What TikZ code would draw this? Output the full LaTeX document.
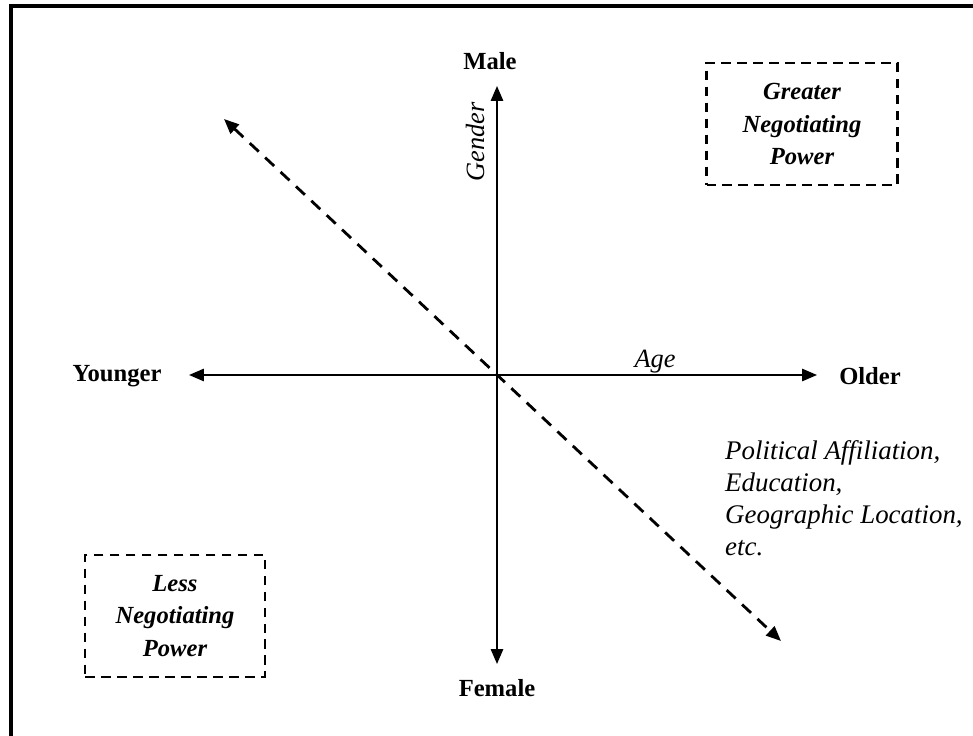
\documentclass[tikz,border=0pt]{standalone}
\usepackage{fontspec}
\setmainfont{Liberation Serif}
\usetikzlibrary{positioning,arrows.meta}
\tikzset{
  axisline/.style={line width=1.1pt,{Triangle[length=8.5pt,width=7pt]}-{Triangle[length=8.5pt,width=7pt]}},
  dimline/.style={line width=1.6pt,dash pattern=on 7pt off 5pt,{Triangle[length=8.5pt,width=7pt]}-{Triangle[length=8.5pt,width=7pt]}},
  poslabel/.style={font=\fontsize{14}{16}\selectfont\bfseries},
  axlabel/.style={font=\fontsize{15}{18}\selectfont\itshape},
  powerbox/.style={draw,line width=1.6pt,dash pattern=on 5.5pt off 3.6pt,align=center,
                   font=\fontsize{14}{18.5}\selectfont\bfseries\itshape,inner sep=0pt},
}
\begin{document}
\begin{tikzpicture}[x=0.02cm,y=-0.02cm]
        \useasboundingbox (0,0) rectangle (973,736);
        \fill[white] (0,0) rectangle (973,736);
        % frame, cut at right and bottom like the scan
        \draw[line width=2pt] (11,6) rectangle (980,742);

        % axes
        \coordinate (o) at (497,375);
        \coordinate (up) at (497,86);
        \coordinate (down) at (497,664);
        \coordinate (left) at (189,375);
        \coordinate (right) at (817,375);
        \coordinate (nw) at (224,119);
        \coordinate (se) at (781,641);
        \draw[axisline] (down) -- (up);
        \draw[axisline] (left) -- (right);
        \draw[dimline] (nw) -- (se);

        \node[poslabel] (male) at (490,61) {Male};
        \node[poslabel] (female) at (497,688) {Female};
        \node[poslabel] (younger) at (117,376) {Younger};
        \node[poslabel] (older) at (870,376) {Older};

        \node[axlabel,rotate=90] (gender) at (475,142) {Gender};
        \node[axlabel] (age) at (655,362) {Age};
        \node[axlabel,align=left,anchor=north west,font=\fontsize{15.3}{18.2}\selectfont\itshape]
              (other) at (719,434)
              {Political Affiliation,\\Education,\\Geographic Location,\\etc.};

        % power boxes
        \node[powerbox,minimum width=191*0.02cm,minimum height=122*0.02cm]
              (greater) at (802,124) {Greater\\Negotiating\\Power};
        \node[powerbox,minimum width=180*0.02cm,minimum height=122*0.02cm]
              (less) at (175,616) {Less\\Negotiating\\Power};
      \end{tikzpicture}
\end{document}
